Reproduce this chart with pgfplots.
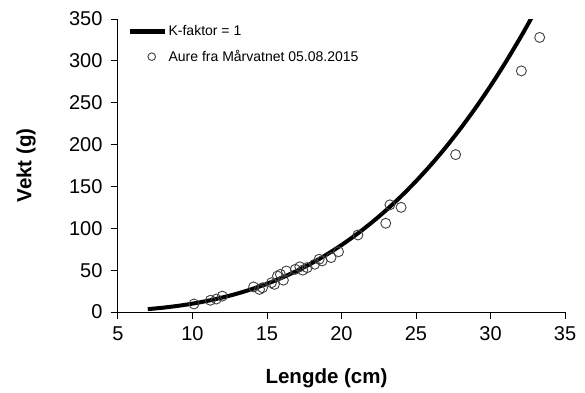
\documentclass[border=0pt]{standalone}
\usepackage{fontspec}
\setmainfont{Liberation Sans}
\usepackage{pgfplots}
\pgfplotsset{compat=1.18}
\pgfplotsset{
  linelegend/.style={legend image code/.code={\draw[##1, line width=4.2pt] (0pt,0pt) -- (35pt,0pt);}},
  marklegend/.style={legend image code/.code={\node[draw=black!75, circle, line width=0.9pt, minimum size=7.6pt, inner sep=0pt] at (17.5pt,0pt) {}; \path[draw=none] (0pt,-1pt) rectangle (35pt,1pt);}},
}
\begin{document}
\begin{tikzpicture}
\begin{axis}[
  scale only axis,
  width=447pt, height=293pt,
  xmin=5, xmax=35, ymin=0, ymax=350,
  xtick={5,10,...,35}, ytick={0,50,...,350},
  axis x line*=bottom, axis y line*=left,
  axis line style={line width=1pt},
  tick align=outside, major tick length=7pt,
  tick style={line width=1pt, black},
  /pgf/number format/assume math mode=true,
  ticklabel style={font=\fontsize{20}{20}\selectfont},
  yticklabel style={xshift=-5pt},
  xticklabel style={yshift=-4pt},
  xlabel={\textbf{Lengde (cm)}}, ylabel={\textbf{Vekt (g)}},
  label style={font=\fontsize{20.5}{21}\selectfont},
  xlabel style={at={(axis description cs:0.5,0)}, anchor=center, yshift=-66pt, xshift=-15pt},
  ylabel style={at={(axis description cs:0,0.5)}, anchor=center, yshift=92pt},
  legend style={draw=none, fill=none, at={(0.015,0.99)}, anchor=north west,
    font=\fontsize{14}{15}\selectfont, row sep=10pt, nodes={inner sep=1.5pt}},
  legend cell align=left,
  clip=true,
]
\addplot[black, line width=4pt, smooth, linelegend] coordinates {
(7,3.43) (8,5.12) (9,7.29) (10,10) (11,13.31) (12,17.28) (13,21.97) (14,27.44)
(15,33.75) (16,40.96) (17,49.13) (18,58.32) (19,68.59) (20,80) (21,92.61)
(22,106.48) (23,121.67) (24,138.24) (25,156.25) (26,175.76) (27,196.83)
(28,219.52) (29,243.89) (30,270) (31,297.91) (32,327.68) (32.5,343.28) (33,359.37)
};
\addlegendentry{K-faktor = 1}
\addplot[only marks, mark=o, mark size=5pt, mark options={draw=black!75, line width=0.9pt}, marklegend] coordinates {
(10.1,9.6) (11.2,14) (11.6,15.5) (12.0,19) (14.1,30) (14.5,27) (14.7,29)
(15.3,35) (15.5,33) (15.7,43) (15.9,45) (16.1,38) (16.3,49) (16.9,51)
(17.2,54) (17.4,50) (17.7,53) (18.2,57) (18.5,63) (18.7,61) (19.3,65)
(19.8,72) (21.1,92) (22.97,106) (23.25,128) (24.0,125) (27.66,188)
(32.07,288) (33.3,328)
};
\addlegendentry{Aure fra Mårvatnet 05.08.2015}
\coordinate (SW) at (rel axis cs:0,0);
\end{axis}
\pgfresetboundingbox
\path[use as bounding box] ([shift={(-118pt,-80pt)}]SW) rectangle ([shift={(467pt,312pt)}]SW);
\end{tikzpicture}
\end{document}
